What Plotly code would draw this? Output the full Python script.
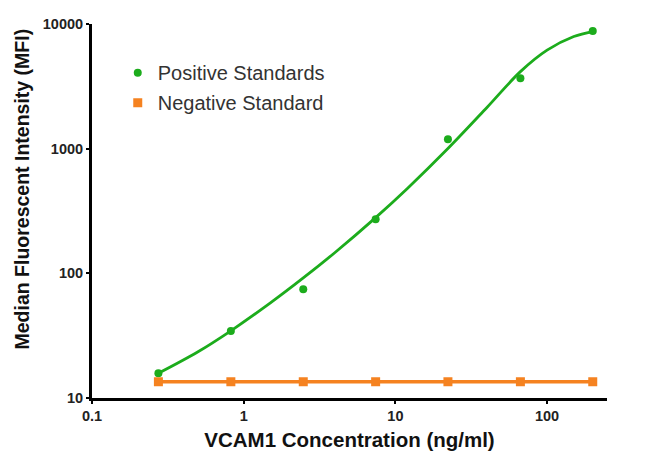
import plotly.graph_objects as go

# Data
conc = [0.274, 0.823, 2.47, 7.41, 22.2, 66.7, 200]
positive_mfi = [15.8, 34.5, 74.4, 271, 1188, 3664, 8770]
negative_mfi = [13.5, 13.5, 13.5, 13.5, 13.5, 13.5, 13.5]

# Fitted standard curve
curve_conc = [0.274, 0.5, 0.823, 1.5, 2.47, 4, 7.41, 12, 22.2, 40, 66.7, 100, 150, 200]
curve_mfi = [15.8, 23.5, 34.6, 57.9, 91.8, 147, 280, 480, 1002, 2130, 4150, 6170, 7930, 8700]

x_ticks = [0.1, 1, 10, 100]
x_tick_labels = ["0.1", "1", "10", "100"]
y_ticks = [10, 100, 1000, 10000]
y_tick_labels = ["10", "100", "1000", "10000"]

green = "rgb(28,172,28)"
orange = "rgb(245,130,32)"
FONT = "Liberation Sans, Arial, sans-serif"

fig = go.Figure()
fig.add_trace(go.Scatter(x=curve_conc, y=curve_mfi, mode="lines",
                         line=dict(color=green, width=2.8, shape="spline", smoothing=1.0),
                         showlegend=False, hoverinfo="skip"))
fig.add_trace(go.Scatter(x=conc, y=negative_mfi, mode="lines", line=dict(color=orange, width=3.5),
                         showlegend=False, hoverinfo="skip"))
fig.add_trace(go.Scatter(x=conc, y=positive_mfi, mode="markers", name="Positive Standards",
                         legendgroup="pos",
                         marker=dict(color=green, size=8, symbol="circle")))
fig.add_trace(go.Scatter(x=conc, y=negative_mfi, mode="markers", name="Negative Standard",
                         legendgroup="neg",
                         marker=dict(color=orange, size=9, symbol="square")))

tick_font = dict(family=FONT, size=14.5, color="#222")
title_font = dict(family=FONT, size=20.5, color="#111")
ytitle_font = dict(family=FONT, size=19.5, color="#111")

fig.update_layout(
    width=650, height=459,
    margin=dict(l=84, r=51, t=16, b=69),
    plot_bgcolor="white", paper_bgcolor="white",
    legend=dict(x=0.05, y=0.922, xanchor="left", yanchor="top", bgcolor="rgba(0,0,0,0)",
                font=dict(family=FONT, size=20, color="#333"),
                tracegroupgap=1),
    xaxis=dict(type="log", range=[-1, 2.395], tickvals=x_ticks,
               ticktext=["<b>%s</b>" % t for t in x_tick_labels],
               showgrid=False, zeroline=False, showline=True, linecolor="black", linewidth=3,
               ticks="outside", ticklen=3, tickwidth=2, tickcolor="black",
               tickfont=tick_font, automargin=False,
               title=dict(text="<b>VCAM1 Concentration (ng/ml)</b>", font=title_font, standoff=10)),
    yaxis=dict(type="log", range=[1, 4], tickvals=y_ticks,
               ticktext=["<b>%s</b>" % t for t in y_tick_labels],
               showgrid=False, zeroline=False, showline=True, linecolor="black", linewidth=3,
               ticks="outside", ticklen=3, tickwidth=2, tickcolor="black",
               tickfont=tick_font, automargin=False),
    annotations=[dict(text="<b>Median Fluorescent Intensity (MFI)</b>", textangle=-90,
                      xref="paper", yref="paper", x=-0.136, y=0.56,
                      xanchor="center", yanchor="middle", showarrow=False, font=ytitle_font)],
)

fig.write_html("out.html")
